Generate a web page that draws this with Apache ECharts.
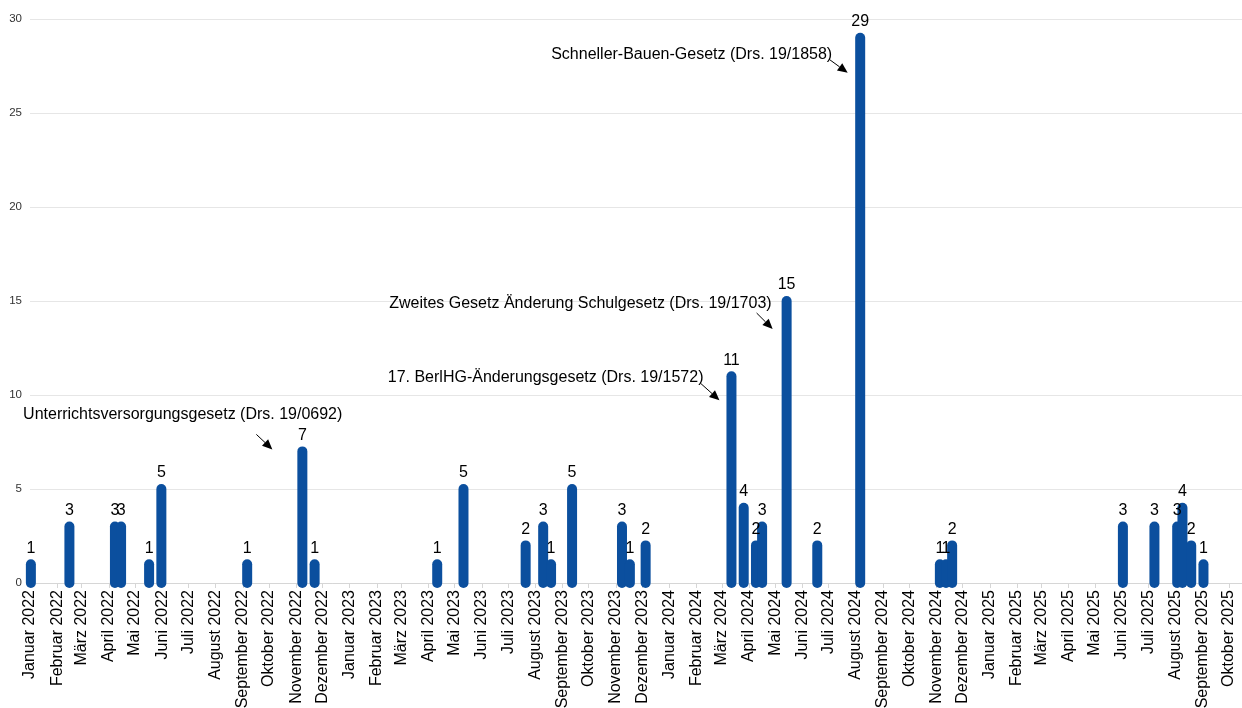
<!DOCTYPE html>
<html>
<head>
<meta charset="utf-8">
<title>Gesetze</title>
<script src="https://cdn.jsdelivr.net/npm/echarts@6/dist/echarts.min.js"></script>
<style>
  html, body { margin: 0; padding: 0; background: #ffffff; }
  #chart { width: 1242px; height: 708px; }
</style>
</head>
<body>
<div id="chart"></div>
<script>
// German month names for the x-axis tick labels
const MONTH_NAMES = ['Januar', 'Februar', 'März', 'April', 'Mai', 'Juni', 'Juli',
  'August', 'September', 'Oktober', 'November', 'Dezember'];

// Dates of the sessions and the count for each
const dates = [
  '2022-01-02', '2022-02-15', '2022-04-08', '2022-04-15', '2022-05-17', '2022-05-31',
  '2022-09-06', '2022-11-08', '2022-11-22',
  '2023-04-11', '2023-05-11', '2023-07-21', '2023-08-10', '2023-08-19', '2023-09-12',
  '2023-11-08', '2023-11-17', '2023-12-05',
  '2024-03-12', '2024-03-26', '2024-04-09', '2024-04-16', '2024-05-14', '2024-06-18',
  '2024-08-06', '2024-11-05', '2024-11-12', '2024-11-19',
  '2025-06-02', '2025-07-08', '2025-08-03', '2025-08-09', '2025-08-19', '2025-09-02'
];
const counts = [
  1, 3, 3, 3, 1, 5,
  1, 7, 1,
  1, 5, 2, 3, 1, 5,
  3, 1, 2,
  11, 4, 2, 3, 15, 2,
  29, 1, 1, 2,
  3, 3, 3, 4, 2, 1
];

// Y-axis ticks
const yTicks = [0, 5, 10, 15, 20, 25, 30];

// Named laws and the session each one belongs to
const noteTexts = [
  'Unterrichtsversorgungsgesetz (Drs. 19/0692)',
  '17. BerlHG-Änderungsgesetz (Drs. 19/1572)',
  'Zweites Gesetz Änderung Schulgesetz (Drs. 19/1703)',
  'Schneller-Bauen-Gesetz (Drs. 19/1858)'
];
const noteDates = ['2022-11-08', '2024-03-12', '2024-05-14', '2024-08-06'];

// Placement of each note relative to the top of its bar (pixels)
const noteLayout = [
  { textRight: 40, textMid: -36.5, from: [-46, -17], to: [-30, -2] },
  { textRight: -28, textMid: 1, from: [-31, 7], to: [-12, 24] },
  { textRight: -15, textMid: 2.5, from: [-30, 12], to: [-14, 28] },
  { textRight: -28, textMid: 16.5, from: [-31, 21.5], to: [-12.5, 35] }
];

const BAR_COLOR = '#0b4f9e';
const FONT = '"Liberation Sans", Arial, sans-serif';

function toTime(s) {
  const p = s.split('-').map(Number);
  return new Date(p[0], p[1] - 1, p[2]).getTime();
}

// Axis range: first of January 2022 up to mid October 2025
const xMin = toTime('2022-01-01');
const xMax = toTime('2025-10-16');

// One tick per month start
const monthTicks = [];
for (let y = 2022; y <= 2025; y++) {
  for (let m = 0; m < 12; m++) {
    const t = new Date(y, m, 1).getTime();
    if (t >= xMin && t <= xMax) monthTicks.push(t);
  }
}

const seriesData = dates.map((d, i) => [toTime(d), counts[i]]);

const chart = echarts.init(document.getElementById('chart'), null, { renderer: 'canvas' });

chart.setOption({
  animation: false,
  backgroundColor: '#ffffff',
  grid: { left: 30, right: 0, top: 19, bottom: 125, containLabel: false, outerBoundsMode: 'none' },
  xAxis: {
    type: 'value',
    min: xMin,
    max: xMax,
    axisLine: { show: true, lineStyle: { color: '#d6d6d6', width: 1 } },
    axisTick: { show: true, length: 5, customValues: monthTicks, lineStyle: { color: '#d6d6d6' } },
    splitLine: { show: false },
    axisLabel: {
      customValues: monthTicks,
      rotate: 90,
      margin: 7,
      hideOverlap: false,
      showMinLabel: true,
      showMaxLabel: true,
      fontSize: 16,
      fontFamily: FONT,
      color: '#000000',
      formatter: function (val) {
        const d = new Date(val);
        return MONTH_NAMES[d.getMonth()] + ' ' + d.getFullYear();
      }
    }
  },
  yAxis: {
    type: 'value',
    min: yTicks[0],
    max: yTicks[yTicks.length - 1],
    interval: yTicks[1] - yTicks[0],
    axisLine: { show: false },
    axisTick: { show: false },
    axisLabel: { fontSize: 11.5, fontFamily: FONT, color: '#333333', margin: 8 },
    splitLine: { show: true, lineStyle: { color: '#e6e6e6', width: 1 } }
  },
  series: [{
    type: 'custom',
    clip: false,
    data: seriesData,
    renderItem: function (params, api) {
      const t = api.value(0);
      const v = api.value(1);
      const base = api.coord([t, 0]);
      const top = api.coord([t, v]);
      return {
        type: 'group',
        children: [
          {
            type: 'line',
            shape: { x1: base[0], y1: base[1], x2: top[0], y2: top[1] },
            style: { stroke: BAR_COLOR, lineWidth: 10, lineCap: 'round' }
          },
          {
            type: 'text',
            z2: 20,
            x: top[0],
            y: top[1] - 8,
            style: {
              text: String(v),
              fill: '#000000',
              font: '16px ' + FONT,
              align: 'center',
              verticalAlign: 'bottom'
            }
          }
        ]
      };
    }
  }]
});

// Notes with arrows pointing at their bars
const graphics = [];
noteTexts.forEach((txt, i) => {
  const t = toTime(noteDates[i]);
  const idx = dates.indexOf(noteDates[i]);
  const p = chart.convertToPixel({ xAxisIndex: 0, yAxisIndex: 0 }, [t, counts[idx]]);
  const L = noteLayout[i];
  graphics.push({
    type: 'text',
    x: p[0] + L.textRight,
    y: p[1] + L.textMid,
    style: { text: txt, font: '16px ' + FONT, fill: '#000000', align: 'right', verticalAlign: 'middle' }
  });
  const sx = p[0] + L.from[0], sy = p[1] + L.from[1];
  const ex = p[0] + L.to[0], ey = p[1] + L.to[1];
  const dx = ex - sx, dy = ey - sy;
  const len = Math.sqrt(dx * dx + dy * dy);
  const ux = dx / len, uy = dy / len;
  const headLen = 10, headHalf = 4.5;
  const bx = ex - ux * headLen, by = ey - uy * headLen;
  graphics.push({
    type: 'line',
    shape: { x1: sx, y1: sy, x2: bx, y2: by },
    style: { stroke: '#000000', lineWidth: 1 }
  });
  graphics.push({
    type: 'polygon',
    shape: { points: [[ex, ey], [bx - uy * headHalf, by + ux * headHalf], [bx + uy * headHalf, by - ux * headHalf]] },
    style: { fill: '#000000' }
  });
});
chart.setOption({ graphic: graphics });
</script>
</body>
</html>
